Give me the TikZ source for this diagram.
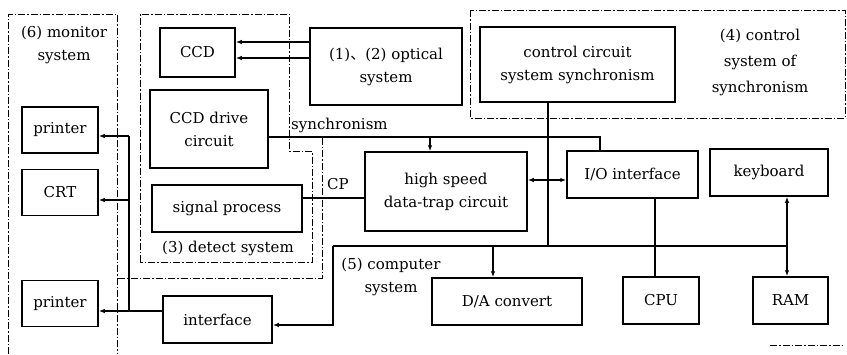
\documentclass[tikz,border=0pt]{standalone}
\usepackage{fontspec}
\setmainfont{DejaVu Serif}
\newfontfamily\cjk{Noto Sans CJK SC}
\usetikzlibrary{arrows.meta}
\begin{document}
\begin{tikzpicture}[x=1pt,y=-1pt,
	every node/.style={font=\fontsize{15}{23}\selectfont},
	box/.style={draw, line width=1.5pt, inner sep=0pt, align=center},
	lbl/.style={inner sep=0pt, align=center},
	region/.style={line width=1pt, dash pattern=on 7pt off 2pt on 1.5pt off 2pt},
	wire/.style={line width=1.2pt},
	arr/.style={wire, -{Latex[length=6pt,width=4.5pt]}},
	arrboth/.style={wire, {Latex[length=6pt,width=4.5pt]}-{Latex[length=6pt,width=4.5pt]}}]
	\useasboundingbox (0,0) rectangle (847,354);
	\draw[region] (8,354) -- (8,14) -- (117,14) -- (117,354);
	\draw[region] (140,262) -- (140,14) -- (289,14) -- (289,151) -- (312,151) -- (312,262) -- cycle;
	\draw[region] (118,278) -- (322,278) -- (322,137);
	\draw[region] (470,10) rectangle (845,118);
	\draw[region] (770,345) -- (845,345);
	\node[box, minimum width=75pt, minimum height=49pt] (ccd) at (197.5,52.5) {CCD};
	\node[box, minimum width=118pt, minimum height=78pt] (drive) at (209,129) {CCD drive\\circuit};
	\node[box, minimum width=150pt, minimum height=47pt] (signal) at (227,208.5) {signal process};
	\node[box, minimum width=152pt, minimum height=77pt] (optical) at (386,66.5) {(1){\cjk 、}(2) optical\\system};
	\node[box, minimum width=195pt, minimum height=75pt] (control) at (577.5,64.5) {control circuit\\system synchronism};
	\node[box, minimum width=162pt, minimum height=79pt] (highspeed) at (446,191.5) {high speed\\data-trap circuit};
	\node[box, minimum width=131pt, minimum height=47pt] (io) at (632.5,174.5) {I/O interface};
	\node[box, minimum width=118pt, minimum height=47pt] (keyboard) at (769,172.5) {keyboard};
	\node[box, minimum width=150pt, minimum height=47pt] (da) at (507,301.5) {D/A convert};
	\node[box, minimum width=76pt, minimum height=47pt] (cpu) at (661,300.5) {CPU};
	\node[box, minimum width=75pt, minimum height=47pt] (ram) at (790.5,300.5) {RAM};
	\node[box, minimum width=109pt, minimum height=47pt] (interface) at (217.5,319.5) {interface};
	\foreach \n/\y/\t in {printerA/130/printer, crt/192.5/CRT, printerB/303.5/printer}{
		\node[box, minimum width=76pt, minimum height=46pt] (\n) at (60,\y) {\t};}
	\node[lbl] (monlbl) at (64,45) {(6) monitor\\system};
	\node[lbl] (detlbl) at (228,248) {(3) detect system};
	\node[lbl, font=\fontsize{15}{26}\selectfont] (ctllbl) at (760,62) {(4) control\\system of\\synchronism};
	\node[lbl] (comlbl) at (391,277) {(5) computer\\system};
	\coordinate (oa) at (0,42);
	\coordinate (ob) at (0,58);
	\draw[arr] (optical.west |- oa) -- (ccd.east |- oa);
	\draw[arr] (optical.west |- ob) -- (ccd.east |- ob);
	\coordinate (sync) at (600,137);
	\coordinate (syncbr) at (430,137);
	\draw[wire] (drive.east |- sync) -- (sync) -- (sync |- io.north);
	\draw[arr] (syncbr) -- (syncbr |- highspeed.north);
	\node[lbl, anchor=west] (synclbl) at (291,125) {synchronism};
	\coordinate (cp) at (0,198);
	\draw[wire] (signal.east |- cp) -- (highspeed.west |- cp);
	\node[lbl] (cplbl) at (338,184) {CP};
	\coordinate (hio) at (0,180);
	\draw[arrboth] (highspeed.east |- hio) -- (io.west |- hio);
	\coordinate (busL) at (333,246);
	\coordinate (busC) at (548,246);
	\coordinate (busD) at (493,246);
	\coordinate (busR) at (787,246);
	\coordinate (cpux) at (655,0);
	\coordinate (ifc) at (333,325);
	\draw[wire] (control.south -| busC) -- (busC);
	\draw[wire] (busL) -- (busR);
	\draw[wire] (io.south -| cpux) -- (cpu.north -| cpux);
	\draw[arrboth] (keyboard.south -| busR) -- (ram.north -| busR);
	\draw[arr] (busD) -- (da.north -| busD);
	\draw[arr] (busL) -- (ifc) -- (interface.east |- ifc);
	\coordinate (m1) at (129,136);
	\coordinate (m2) at (129,200);
	\coordinate (m3) at (129,311);
	\draw[wire] (interface.west |- m3) -- (m3) -- (m1);
	\foreach \n/\m in {printerA/m1, crt/m2, printerB/m3}{
		\draw[arr] (\m) -- (\n.east |- \m);}
\end{tikzpicture}
\end{document}
